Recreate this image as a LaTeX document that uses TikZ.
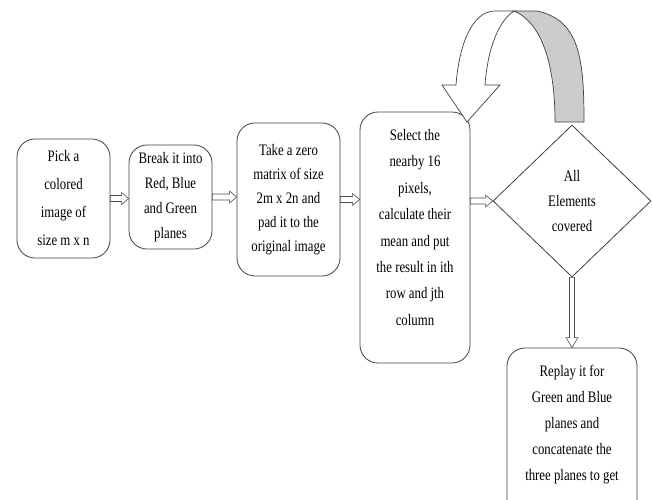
\documentclass[tikz,border=0pt]{standalone}
\usepackage{fontspec}
\setmainfont{Liberation Serif}[FakeStretch=0.8]
\usetikzlibrary{shapes.geometric,calc}

% hollow block arrows between two anchors
\newcommand\hflowarrow[2]{%
  \draw[hollow] let \p1=(#1), \p2=(#2) in
    (\x1,\y1+3pt) -- (\x2-7pt,\y1+3pt) -- (\x2-7pt,\y1+6pt) -- (\x2,\y1)
    -- (\x2-7pt,\y1-6pt) -- (\x2-7pt,\y1-3pt) -- (\x1,\y1-3pt) -- cycle;}
\newcommand\vflowarrow[2]{%
  \draw[hollow] let \p1=(#1), \p2=(#2) in
    (\x1-2.5pt,\y1) -- (\x1-2.5pt,\y2+10pt) -- (\x1-6pt,\y2+10pt) -- (\x1,\y2)
    -- (\x1+6pt,\y2+10pt) -- (\x1+2.5pt,\y2+10pt) -- (\x1+2.5pt,\y1) -- cycle;}

\begin{document}
\begin{tikzpicture}[x=1pt,y=-1pt,
  every node/.style={font=\fontsize{16}{26}\selectfont, text=black},
  box/.style={draw=black!75, line width=0.8pt, rounded corners=18pt, fill=white,
              inner sep=0pt, align=center},
  dec/.style={draw=black!75, line width=0.8pt, shape=diamond, inner sep=0pt, align=center},
  hollow/.style={draw=black!70, line width=0.6pt, fill=white},
  band/.style={draw=black!75, line width=0.7pt}]
\useasboundingbox (0,0) rectangle (652,499);

% process steps
\node[box, minimum width=93pt, minimum height=119pt, font=\fontsize{16}{28}\selectfont]
  (b1) at (63.5,198.5) {Pick a\\colored\\image of\\size m x n};
\node[box, minimum width=83pt, minimum height=104pt, font=\fontsize{16}{25}\selectfont]
  (b2) at (170.5,197) {Break it into\\Red, Blue\\and Green\\planes};
\node[box, minimum width=103pt, minimum height=153pt, font=\fontsize{16}{24}\selectfont]
  (b3) at (288.5,199.5) {Take a zero\\matrix of size\\2m x 2n and\\pad it to the\\original image};
\node[box, minimum width=110pt, minimum height=251pt] (b4) at (415,237.5) {};
\node[font=\fontsize{16}{26.4}\selectfont, align=center] (t4) at (415,227.5)
  {Select the\\nearby 16\\pixels,\\calculate their\\mean and put\\the result in ith\\row and jth\\column};
\node[dec, minimum width=158pt, minimum height=152pt, font=\fontsize{16}{25}\selectfont]
  (d) at (572,201) {All\\Elements\\covered};
\node[box, minimum width=130pt, minimum height=180pt] (b5) at (572,438) {};
\node[font=\fontsize{16}{26}\selectfont, align=center, anchor=north] (t5) at (572,362)
  {Replay it for\\Green and Blue\\planes and\\concatenate the\\three planes to get};

% connectors
\hflowarrow{b1.east}{b2.west}
\hflowarrow{b2.east}{b3.west}
\hflowarrow{b3.east}{b4.west}
\hflowarrow{b4.east |- d.west}{d.west}
\vflowarrow{d.south}{b5.north}

% loop-back curved arrow over the decision
\filldraw[band, fill=black!20]
  (514,11) -- (537,11) .. controls (580,20) and (584,60) .. (584,122)
  -- (555,122) .. controls (555,60) and (540,22) .. (514,11) -- cycle;
\filldraw[band, fill=white]
  (456,85) .. controls (459,45) and (472,11) .. (495,11) -- (514,11)
  .. controls (500,20) and (488,45) .. (485,85)
  -- (500,85) -- (467,122) -- (442,85) -- cycle;
\end{tikzpicture}
\end{document}
